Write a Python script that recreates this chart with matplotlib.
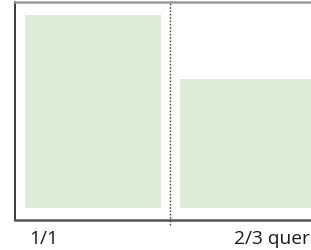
import matplotlib
matplotlib.use("Agg")
import matplotlib.pyplot as plt
from matplotlib.transforms import blended_transform_factory

# chart data
categories = ["1/1", "2/3 quer"]
shares = [1.0, 2 / 3]

BAR_COLOR = "#deedd8"

fig = plt.figure(figsize=(3.11, 2.51), dpi=100)
# axes spans past the right edge so the right panel is cut off
ax = fig.add_axes([15 / 311, 30 / 251, 310.5 / 311, 218 / 251])

x = range(len(categories))
ax.bar(x, shares, width=0.877, color=BAR_COLOR, linewidth=0)

ax.set_xlim(-0.5, 1.5)
ax.set_ylim(-0.062, 1.067)

# divider between the two panels, runs a bit below the axis
ax.plot([0.5, 0.5], [-0.088, 1.067], color="#444444", lw=1.0,
        ls=(0, (1.2, 1.2)), clip_on=False, zorder=3)

ax.spines["left"].set_color("#2b2b2b")
ax.spines["left"].set_linewidth(1.3)
ax.spines["bottom"].set_color("#555555")
ax.spines["bottom"].set_linewidth(1.8)
ax.spines["top"].set_color("#999999")
ax.spines["top"].set_linewidth(1.8)
ax.spines["right"].set_visible(False)
ax.set_xticks([])
ax.set_yticks([])

# category labels below the axis
trans = blended_transform_factory(ax.transData, fig.transFigure)
ax.text(-0.406, 12 / 251, categories[0], transform=trans, ha="left", va="center",
        fontsize=13.8, family="Open Sans", color="#1a1a1a")
fig.text(310 / 311, 12 / 251, categories[1], ha="right", va="center",
         fontsize=13.8, family="Open Sans", color="#1a1a1a")

fig.savefig("out.png", dpi=100)
